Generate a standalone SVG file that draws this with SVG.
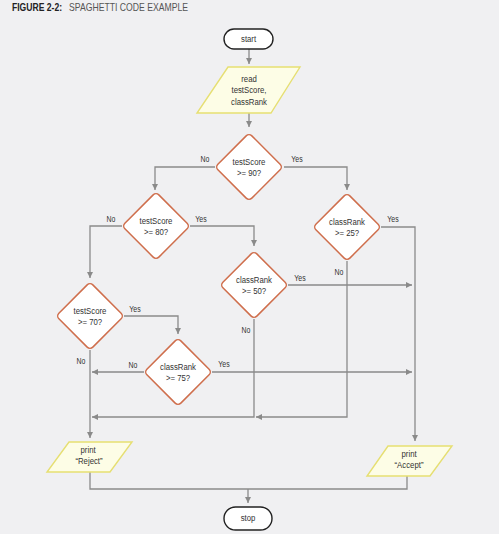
<svg xmlns="http://www.w3.org/2000/svg" width="499" height="534" viewBox="0 0 499 534">
<style>
.bg{fill:#f0f0f2}
.term{fill:#fff;stroke:#222;stroke-width:1.4}
.io{fill:#fdfde6;stroke:#e6df72;stroke-width:1.4}
.dec{fill:#fff;stroke:#cf6e4c;stroke-width:1.5}
.t{font-family:"Liberation Sans",Arial,sans-serif;font-size:9.5px;fill:#333;text-anchor:middle;transform-box:fill-box;transform-origin:center;transform:scaleX(0.82)}
.lbl{font-family:"Liberation Sans",Arial,sans-serif;font-size:8.5px;fill:#333;text-anchor:middle;transform-box:fill-box;transform-origin:center;transform:scaleX(0.82)}
.c{fill:none;stroke:#8a8a8a;stroke-width:1.3}
.ttl1{font-family:"Liberation Sans","DejaVu Sans",sans-serif;font-size:10px;font-weight:bold;fill:#222}
.ttl2{font-family:"Liberation Sans",sans-serif;font-size:10.5px;fill:#555}
</style>
<defs>
<marker id="ah" markerUnits="userSpaceOnUse" markerWidth="8" markerHeight="8" refX="6" refY="3" orient="auto">
<path d="M0,0 L6,3 L0,6 Z" fill="#8a8a8a"/>
</marker>
</defs>
<rect class="bg" x="0" y="0" width="499" height="534"/>
<g id="title">
<text class="ttl1" x="12" y="11" textLength="50" lengthAdjust="spacingAndGlyphs">FIGURE 2-2:</text>
<text class="ttl2" x="69" y="11" textLength="119" lengthAdjust="spacingAndGlyphs">SPAGHETTI CODE EXAMPLE</text>
</g>
<g id="connectors">
<path class="c" d="M249,49 V64" marker-end="url(#ah)"/>
<path class="c" d="M249,113 V127" marker-end="url(#ah)"/>
<path class="c" d="M215,167 H155 V190" marker-end="url(#ah)"/>
<path class="c" d="M284,167 H347 V190" marker-end="url(#ah)"/>
<path class="c" d="M122,226 H90 V278" marker-end="url(#ah)"/>
<path class="c" d="M190,226 H254 V246" marker-end="url(#ah)"/>
<path class="c" d="M381,227 H415 V441" marker-end="url(#ah)"/>
<path class="c" d="M347,261 V417 H256" marker-end="url(#ah)"/>
<path class="c" d="M288,285 H412" marker-end="url(#ah)"/>
<path class="c" d="M254,319 V417 H92" marker-end="url(#ah)"/>
<path class="c" d="M124,316 H178 V334" marker-end="url(#ah)"/>
<path class="c" d="M90,350 V438" marker-end="url(#ah)"/>
<path class="c" d="M144,372 H92" marker-end="url(#ah)"/>
<path class="c" d="M212,372 H412" marker-end="url(#ah)"/>
<path class="c" d="M90,472 V489 H407 V476"/>
<path class="c" d="M248,489 V503" marker-end="url(#ah)"/>
<text class="lbl" x="205" y="162">No</text>
<text class="lbl" x="297" y="162">Yes</text>
<text class="lbl" x="111" y="222">No</text>
<text class="lbl" x="201" y="222">Yes</text>
<text class="lbl" x="393" y="222">Yes</text>
<text class="lbl" x="339" y="275">No</text>
<text class="lbl" x="300" y="281">Yes</text>
<text class="lbl" x="246" y="333">No</text>
<text class="lbl" x="135" y="312">Yes</text>
<text class="lbl" x="81" y="364">No</text>
<text class="lbl" x="133" y="368">No</text>
<text class="lbl" x="224" y="367">Yes</text>
</g>
<g id="start">
<rect class="term" x="224" y="29" width="49" height="20" rx="10"/>
<text class="t" x="248.5" y="42">start</text>
</g>
<g id="read">
<path class="io" d="M228,67 H300 L271,113 H197 Z"/>
<text class="t" x="249" y="82">read</text>
<text class="t" x="249" y="93.5">testScore,</text>
<text class="t" x="249" y="105">classRank</text>
</g>
<g id="d1">
<rect class="dec" x="-24" y="-24" width="48" height="48" rx="4" transform="translate(249,167) rotate(45)"/>
<text class="t" x="249" y="165">testScore</text>
<text class="t" x="249" y="176">&gt;= 90?</text>
</g>
<g id="d2">
<rect class="dec" x="-24" y="-24" width="48" height="48" rx="4" transform="translate(156,226) rotate(45)"/>
<text class="t" x="156" y="224">testScore</text>
<text class="t" x="156" y="235">&gt;= 80?</text>
</g>
<g id="d3">
<rect class="dec" x="-24" y="-24" width="48" height="48" rx="4" transform="translate(347,227) rotate(45)"/>
<text class="t" x="347" y="225">classRank</text>
<text class="t" x="347" y="236">&gt;= 25?</text>
</g>
<g id="d5">
<rect class="dec" x="-24" y="-24" width="48" height="48" rx="4" transform="translate(254,285) rotate(45)"/>
<text class="t" x="254" y="283">classRank</text>
<text class="t" x="254" y="294">&gt;= 50?</text>
</g>
<g id="d4">
<rect class="dec" x="-24" y="-24" width="48" height="48" rx="4" transform="translate(90,316) rotate(45)"/>
<text class="t" x="90" y="314">testScore</text>
<text class="t" x="90" y="325">&gt;= 70?</text>
</g>
<g id="d6">
<rect class="dec" x="-24" y="-24" width="48" height="48" rx="4" transform="translate(178,372) rotate(45)"/>
<text class="t" x="178" y="370">classRank</text>
<text class="t" x="178" y="381">&gt;= 75?</text>
</g>
<g id="reject">
<path class="io" d="M69,442 H132 L110,472 H47 Z"/>
<text class="t" x="88" y="453">print</text>
<text class="t" x="89" y="464.5">“Reject”</text>
</g>
<g id="accept">
<path class="io" d="M388,446 H452 L430,476 H367 Z"/>
<text class="t" x="409" y="457">print</text>
<text class="t" x="409" y="468.5">“Accept”</text>
</g>
<g id="stop">
<rect class="term" x="224" y="507" width="48" height="23" rx="11.5"/>
<text class="t" x="248" y="521.5">stop</text>
</g>
</svg>
